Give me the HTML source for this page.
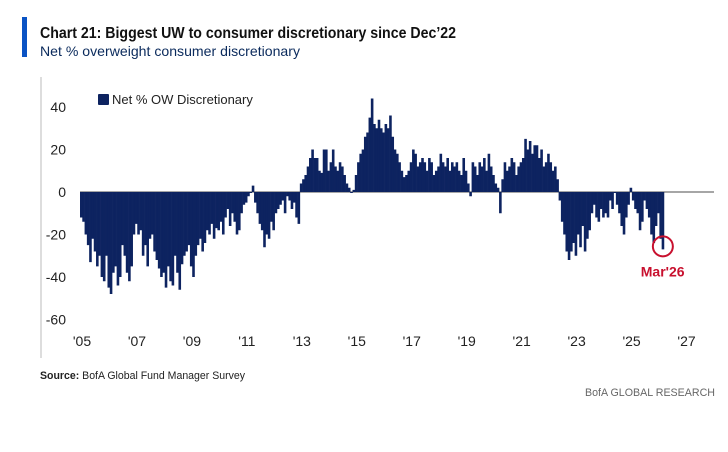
<!DOCTYPE html>
<html><head><meta charset="utf-8"><style>
body{margin:0;width:728px;height:447px;background:#fff;font-family:"Liberation Sans",sans-serif;overflow:hidden}
</style></head><body>
<svg width="728" height="447" xmlns="http://www.w3.org/2000/svg">
<rect x="22" y="17" width="5" height="40" fill="#0a53c4"/>
<text x="40" y="38" font-size="16" font-weight="bold" fill="#111" textLength="416" lengthAdjust="spacingAndGlyphs">Chart 21: Biggest UW to consumer discretionary since Dec’22</text>
<text x="40" y="56" font-size="14" fill="#0a2a5c" textLength="260" lengthAdjust="spacingAndGlyphs">Net % overweight consumer discretionary</text>
<line x1="41" y1="77" x2="41" y2="358" stroke="#bbb" stroke-width="1"/>
<g id="yaxis"></g>
<g id="xaxis"></g>
<line id="zeroline" stroke="#888" stroke-width="1.5"/>
<g id="bars"></g>
<rect x="98" y="94" width="11" height="11" fill="#0d2360" rx="1"/>
<text x="112" y="104" font-size="13" fill="#222">Net % OW Discretionary</text>
<circle id="marker" r="10" fill="none" stroke="#c8102e" stroke-width="2"/>
<text id="markerlabel" font-size="14" font-weight="bold" fill="#c8102e" text-anchor="middle">Mar'26</text>
<text x="40" y="379" font-size="11" fill="#222" textLength="205" lengthAdjust="spacingAndGlyphs"><tspan font-weight="bold">Source:</tspan> BofA Global Fund Manager Survey</text>
<text x="715" y="396" font-size="11" fill="#666" text-anchor="end" textLength="130" lengthAdjust="spacingAndGlyphs">BofA GLOBAL RESEARCH</text>
</svg>
<script>
const yTicks=[40,20,0,-20,-40,-60];
const xTickLabels=["'05","'07","'09","'11","'13","'15","'17","'19","'21","'23","'25","'27"];
const xTickYears=[2005,2007,2009,2011,2013,2015,2017,2019,2021,2023,2025,2027];
const startYear=2005;
const values=[
-12,-14,-20,-25,-33,-22,-28,-35,-30,-40,-42,-30,
-45,-48,-38,-35,-44,-40,-25,-30,-38,-42,-35,-20,
-15,-20,-18,-30,-25,-35,-22,-20,-28,-32,-36,-40,
-38,-45,-35,-42,-44,-30,-38,-46,-34,-30,-28,-25,
-35,-40,-30,-25,-22,-28,-24,-18,-20,-15,-22,-17,
-18,-14,-20,-12,-8,-16,-10,-14,-20,-18,-10,-6,
-5,-2,0,3,-5,-10,-15,-18,-26,-20,-22,-14,
-18,-10,-8,-6,-4,-10,-2,-4,-8,-5,-12,-15,
4,6,8,12,16,20,16,16,10,9,20,20,
10,14,20,12,10,14,12,8,4,2,0,1,
8,14,18,20,26,28,35,44,32,30,34,30,
28,32,30,36,26,20,18,14,10,7,8,10,
14,20,18,12,14,16,14,10,16,14,8,10,
12,18,14,12,16,10,14,12,14,10,8,16,
10,4,-2,14,12,8,14,12,16,10,18,12,
8,4,2,-10,6,14,10,12,16,14,8,12,
14,16,25,20,24,18,22,22,16,20,12,14,
18,14,10,12,6,-4,-14,-20,-28,-32,-28,-24,
-30,-20,-26,-16,-28,-22,-18,-10,-6,-12,-14,-8,
-12,-10,-12,-4,-8,0,-6,-10,-16,-20,-12,-6,
2,-4,-8,-10,-18,-14,-4,-8,-12,-20,-24,-16,
-10,-22,-27];
const NS='http://www.w3.org/2000/svg';
const monthW=2.29;
function xScale(m){return 80+m*monthW;}
function yScale(v){return 192-v*2.125;}
const ya=document.getElementById('yaxis');
yTicks.forEach(t=>{const e=document.createElementNS(NS,'text');
e.setAttribute('x',66);e.setAttribute('y',yScale(t)+5);e.setAttribute('font-size','14');e.setAttribute('fill','#222');e.setAttribute('text-anchor','end');


e.textContent=t;ya.appendChild(e);});
const xa=document.getElementById('xaxis');
xTickLabels.forEach((l,i)=>{const e=document.createElementNS(NS,'text');
e.setAttribute('x',xScale((xTickYears[i]-startYear)*12)+2);e.setAttribute('y',346);e.setAttribute('font-size','14');e.setAttribute('fill','#222');e.setAttribute('text-anchor','middle');


e.textContent=l;xa.appendChild(e);});
const zl=document.getElementById('zeroline');
zl.setAttribute('x1',xScale(0));zl.setAttribute('x2',714);zl.setAttribute('y1',yScale(0));zl.setAttribute('y2',yScale(0));
const g=document.getElementById('bars');
values.forEach((v,i)=>{const r=document.createElementNS(NS,'rect');
const y0=yScale(0),y1=yScale(v);
r.setAttribute('x',xScale(i));r.setAttribute('width',monthW+0.3);
r.setAttribute('y',Math.min(y0,y1));r.setAttribute('height',Math.max(Math.abs(y1-y0),1));
r.setAttribute('fill','#0d2360');


g.appendChild(r);});
const last=values.length-1;
const mk=document.getElementById('marker');
mk.setAttribute('cx',xScale(last)+1.2);mk.setAttribute('cy',yScale(values[last])-3);
const ml=document.getElementById('markerlabel');
ml.setAttribute('x',xScale(last)+1);ml.setAttribute('y',yScale(values[last])+27);
</script>
</body></html>
